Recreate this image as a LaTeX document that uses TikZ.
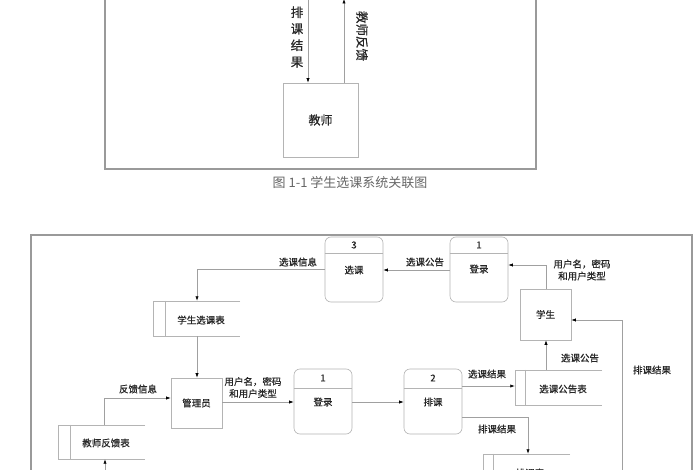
\documentclass[tikz,border=0pt]{standalone}
\usepackage{fontspec}
\setmainfont{Noto Sans CJK SC}[FakeBold=0.6]
\newfontfamily\capfont{Noto Sans CJK SC}
\usetikzlibrary{arrows.meta,calc}
\definecolor{ln}{HTML}{A0A0A0}
\definecolor{bx}{HTML}{B4B4B4}
\definecolor{tx}{HTML}{262626}
\definecolor{fr}{HTML}{9A9A9A}
\begin{document}
\begin{tikzpicture}[x=1pt,y=-1pt,
  every node/.style={text=tx,font=\fontsize{9.5}{11}\selectfont,inner sep=0pt},
  proc/.style={draw=bx,line width=0.6pt,rounded corners=6pt,minimum width=58pt,minimum height=65pt},
  ent/.style={draw=bx,line width=0.6pt},
  storebox/.style={minimum width=87pt,minimum height=35pt},
  flow/.style={draw=ln,line width=0.6pt,-{Latex[length=4.5pt,width=3.2pt,color=black]}},
  lbl/.style={align=center,font=\fontsize{9.5}{12}\selectfont},
  frame/.style={draw=fr,line width=1.3pt}
]
\useasboundingbox (0,0) rectangle (700,470);
\fill[white] (0,0) rectangle (700,470);

% ---------- top figure ----------
\draw[frame] (105,-20) rectangle (536,169);
\node[ent,minimum width=75pt,minimum height=74pt,font=\fontsize{12}{14}\selectfont] (teacher) at (320.5,120) {教师};
\coordinate (t1) at (308,-10);
\coordinate (t2) at (344,-1);
\draw[flow] (t1) -- (t1 |- teacher.north);
\draw[flow] (t2 |- teacher.north) -- (t2);
\node[align=center,font=\fontsize{12.5}{16.5}\selectfont] (lt1) at (297,37) {排\\课\\结\\果};
\node[rotate=-90,font=\fontsize{12.5}{14}\selectfont] (lt2) at (362,36) {教师反馈};
\node[text=black!60,font=\capfont\fontsize{13}{15}\selectfont] (cap) at (350,183) {图 1-1 学生选课系统关联图};

% ---------- bottom figure ----------
\draw[frame] (31,235) rectangle (692,490);

% processes
\node[proc] (p3) at (354,269.5) {};
\draw[ent] (p3.west |- 0,253) -- (p3.east |- 0,253);
\node (p3n) at (354,245) {3};
\node (p3t) at (354,270) {选课};

\node[proc] (p1a) at (479,269.5) {};
\draw[ent] (p1a.west |- 0,253) -- (p1a.east |- 0,253);
\node (p1an) at (479,245) {1};
\node (p1at) at (479,269) {登录};

\node[proc] (p1b) at (323,401.5) {};
\draw[ent] (p1b.west |- 0,388) -- (p1b.east |- 0,388);
\node (p1bn) at (323,378) {1};
\node (p1bt) at (323,402) {登录};

\node[proc] (p2) at (433,401.5) {};
\draw[ent] (p2.west |- 0,388) -- (p2.east |- 0,388);
\node (p2n) at (433,378) {2};
\node (p2t) at (433,402) {排课};

% entities
\node[ent,minimum width=51pt,minimum height=51pt] (stu) at (545.5,314.5) {学生};
\node[ent,minimum width=51pt,minimum height=50pt] (adm) at (196.5,403) {管理员};

% stores
\node[storebox] (s1) at (558.5,387.5) {};
\draw[ent] (s1.north east) -- (s1.north west) -- (s1.south west) -- (s1.south east);
\draw[ent] ([xshift=10pt]s1.north west) -- ([xshift=10pt]s1.south west);
\node (s1t) at (563,389) {选课公告表};

\node[storebox] (s2) at (196.5,318.5) {};
\draw[ent] (s2.north east) -- (s2.north west) -- (s2.south west) -- (s2.south east);
\draw[ent] ([xshift=12pt]s2.north west) -- ([xshift=12pt]s2.south west);
\node (s2t) at (201,320) {学生选课表};

\node[storebox,minimum height=34pt] (s3) at (101.5,442) {};
\draw[ent] (s3.north east) -- (s3.north west) -- (s3.south west) -- (s3.south east);
\draw[ent] ([xshift=12pt]s3.north west) -- ([xshift=12pt]s3.south west);
\node (s3t) at (106,443) {教师反馈表};

\node[storebox] (s4) at (526.5,471.5) {};
\draw[ent] (s4.north east) -- (s4.north west) -- (s4.south west) -- (s4.south east);
\draw[ent] ([xshift=10pt]s4.north west) -- ([xshift=10pt]s4.south west);
\node (s4t) at (530,473) {排课表};

% flows
\draw[flow] (p1a.west |- 0,270) -- (p3.east |- 0,270);
\node[lbl] (l1) at (425,262) {选课公告};

\draw[flow] (stu.north -| 546,0) |- (p1a.east |- 0,265);
\node[lbl] (l2) at (582,270) {用户名，密码\\和用户类型};

\coordinate (c3) at (197,269);
\draw[flow] (p3.west |- c3) -- (c3) -- (c3 |- s2.north);
\node[lbl] (l3) at (298,262) {选课信息};

\draw[flow] (s2.south -| 197,0) -- (adm.north -| 197,0);

\coordinate (c5) at (104,398);
\draw[flow] (s3.north -| c5) -- (c5) -- (c5 -| adm.west);
\node[lbl] (l5) at (138,389) {反馈信息};

\draw[flow] (adm.east |- 0,402) -- (p1b.west |- 0,402);
\node[lbl] (l6) at (253,387.5) {用户名，密码\\和用户类型};

\draw[flow] (p1b.east |- 0,402) -- (p2.west |- 0,402);

\draw[flow] (p2.east |- 0,386) -- (s1.west |- 0,386);
\node[lbl] (l8) at (487,374) {选课结果};

\coordinate (c9) at (528,417);
\draw[flow] (p2.east |- c9) -- (c9) -- (c9 |- s4.north);
\node[lbl] (l9) at (497,429) {排课结果};

\draw[flow] (s1.north -| 546,0) -- (stu.south -| 546,0);
\node[lbl] (l10) at (580,358) {选课公告};

\coordinate (c11b) at (622,490);
\coordinate (c11) at (622,320);
\draw[flow] (c11b) -- (c11) -- (c11 -| stu.east);
\node[lbl] (l11) at (652,370) {排课结果};

\coordinate (c12) at (105,490);
\draw[flow] (c12) -- (c12 |- s3.south);
\end{tikzpicture}
\end{document}
